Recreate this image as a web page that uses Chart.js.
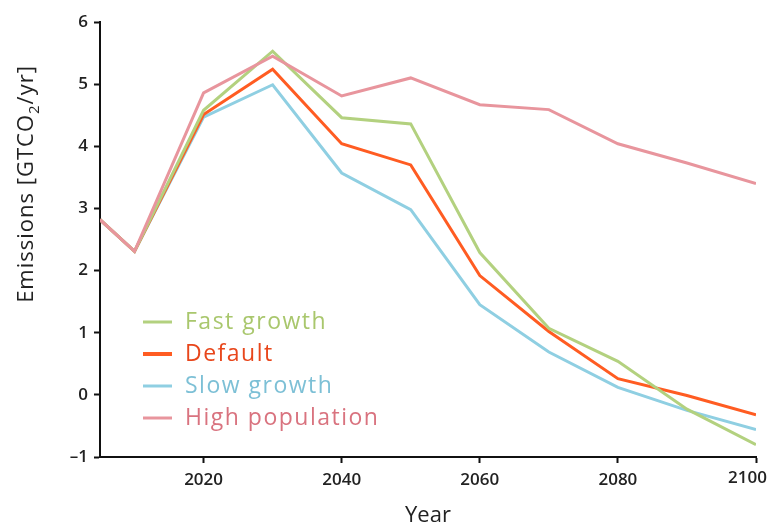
<!DOCTYPE html>
<html>
<head>
<meta charset="utf-8">
<script src="https://cdn.jsdelivr.net/npm/chart.js@4"></script>
<style>
  html, body { margin: 0; padding: 0; background: #fff; }
  #wrap { width: 767px; height: 522px; }
</style>
</head>
<body>
<div id="wrap"><canvas id="emissionsChart" width="767" height="522"></canvas></div>
<script>
// Emissions scenarios, GtCO2 per year
const years = [2005, 2010, 2020, 2030, 2040, 2050, 2060, 2070, 2080, 2090, 2100];
const fastGrowth = [2.82, 2.31, 4.58, 5.53, 4.46, 4.36, 2.29, 1.07, 0.54, -0.23, -0.80];
const defaultCase = [2.82, 2.31, 4.51, 5.24, 4.04, 3.70, 1.92, 1.02, 0.26, -0.01, -0.32];
const slowGrowth = [2.82, 2.31, 4.47, 4.99, 3.57, 2.98, 1.45, 0.69, 0.12, -0.25, -0.56];
const highPopulation = [2.82, 2.31, 4.86, 5.45, 4.81, 5.10, 4.67, 4.59, 4.04, 3.73, 3.40];
const xTicks = [2020, 2040, 2060, 2080, 2100];

const seriesNames = ['Fast growth', 'Default', 'Slow growth', 'High population'];
const lineColors = ['#b3d17f', '#ff5c22', '#8fcfe2', '#e8959d'];
const textColors = ['#a9c76d', '#e8461b', '#7dc0d6', '#d9737f'];
const drawOrder = [0, 0, 0, -1]; // high population sits on top

const FONT = '"Open Sans", sans-serif';
const tickFont = { family: FONT, size: 17, weight: '600' };

const toPoints = vals => vals.map((v, i) => ({ x: years[i], y: v }));

Chart.defaults.font.family = FONT;
Chart.defaults.color = '#222';

// legend drawn inside the plot area, bottom left
const innerLegend = {
    id: 'innerLegend',
    afterDraw(chart) {
        const ctx = chart.ctx;
        const x0 = 143, x1 = 172, tx = 185;
        const rows = [322, 354, 386, 418];
        ctx.save();
        ctx.font = '23px ' + FONT;
        ctx.letterSpacing = '1.5px';
        ctx.textBaseline = 'middle';
        chart.data.datasets.forEach((ds, i) => {
            ctx.strokeStyle = ds.borderColor;
            ctx.lineWidth = i === 1 ? 4 : 3;
            ctx.beginPath();
            ctx.moveTo(x0, rows[i]);
            ctx.lineTo(x1, rows[i]);
            ctx.stroke();
            ctx.fillStyle = textColors[i];
            ctx.fillText(ds.label, tx, rows[i]);
        });
        ctx.restore();
    }
};

// y-axis title with a real subscript, plus the last x label kept inside the canvas
const axisText = {
    id: 'axisText',
    afterDraw(chart) {
        const ctx = chart.ctx;
        ctx.save();
        ctx.fillStyle = '#222';
        ctx.letterSpacing = '1px';

        // rotated y title
        const parts = [
            { t: 'Emissions [GTCO', size: 22, dy: 0 },
            { t: '2', size: 15, dy: 6 },
            { t: '/yr]', size: 22, dy: 0 }
        ];
        let total = 0;
        parts.forEach(p => {
            ctx.font = p.size + 'px ' + FONT;
            p.w = ctx.measureText(p.t).width;
            total += p.w;
        });
        ctx.translate(33, 184);
        ctx.rotate(-Math.PI / 2);
        ctx.textBaseline = 'alphabetic';
        let x = -total / 2;
        parts.forEach(p => {
            ctx.font = p.size + 'px ' + FONT;
            ctx.fillText(p.t, x, p.dy);
            x += p.w;
        });
        ctx.restore();

        // last x tick label, clamped to the canvas edge
        const xs = chart.scales.x;
        const last = xTicks[xTicks.length - 1];
        const label = String(last);
        ctx.save();
        ctx.font = tickFont.weight + ' ' + tickFont.size + 'px ' + FONT;
        ctx.fillStyle = '#222';
        ctx.textBaseline = 'top';
        ctx.textAlign = 'center';
        const w = ctx.measureText(label).width;
        const px = Math.min(xs.getPixelForValue(last), chart.width - w / 2);
        ctx.fillText(label, px, xs.top + 6 + 7);
        ctx.restore();
    }
};

new Chart(document.getElementById('emissionsChart').getContext('2d'), {
    type: 'line',
    data: {
        datasets: [fastGrowth, defaultCase, slowGrowth, highPopulation].map((vals, i) => ({
            label: seriesNames[i],
            data: toPoints(vals),
            borderColor: lineColors[i],
            borderWidth: 3,
            pointRadius: 0,
            fill: false,
            tension: 0,
            order: drawOrder[i]
        }))
    },
    options: {
        responsive: false,
        animation: false,
        layout: { padding: { left: 0, right: 11, top: 22, bottom: 0 } },
        plugins: {
            legend: { display: false },
            tooltip: { enabled: false }
        },
        scales: {
            x: {
                type: 'linear',
                min: 2005,
                max: 2100,
                afterBuildTicks: scale => {
                    scale.ticks = xTicks.map(v => ({ value: v }));
                },
                afterFit: scale => {
                    scale.height = 65;
                    scale.paddingLeft = 0;
                    scale.paddingRight = 0;
                },
                grid: {
                    drawOnChartArea: false,
                    drawTicks: true,
                    tickLength: 6,
                    tickWidth: 2,
                    color: '#111'
                },
                border: { display: true, color: '#111', width: 2 },
                ticks: {
                    maxRotation: 0,
                    padding: 7,
                    font: tickFont,
                    color: '#222',
                    callback: v => (v === xTicks[xTicks.length - 1] ? '' : String(v))
                },
                title: {
                    display: true,
                    text: 'Year',
                    font: { size: 22 },
                    color: '#222',
                    padding: { top: 0, bottom: -7 }
                }
            },
            y: {
                min: -1,
                max: 6,
                afterFit: scale => {
                    scale.width = 100;
                },
                grid: {
                    drawOnChartArea: false,
                    drawTicks: true,
                    tickLength: 6,
                    tickWidth: 2,
                    color: '#111'
                },
                border: { display: true, color: '#111', width: 2 },
                ticks: {
                    stepSize: 1,
                    padding: 6,
                    font: tickFont,
                    color: '#222',
                    callback: v => (v < 0 ? '\u2013' + Math.abs(v) : String(v))
                }
            }
        }
    },
    plugins: [innerLegend, axisText]
});
</script>
</body>
</html>
